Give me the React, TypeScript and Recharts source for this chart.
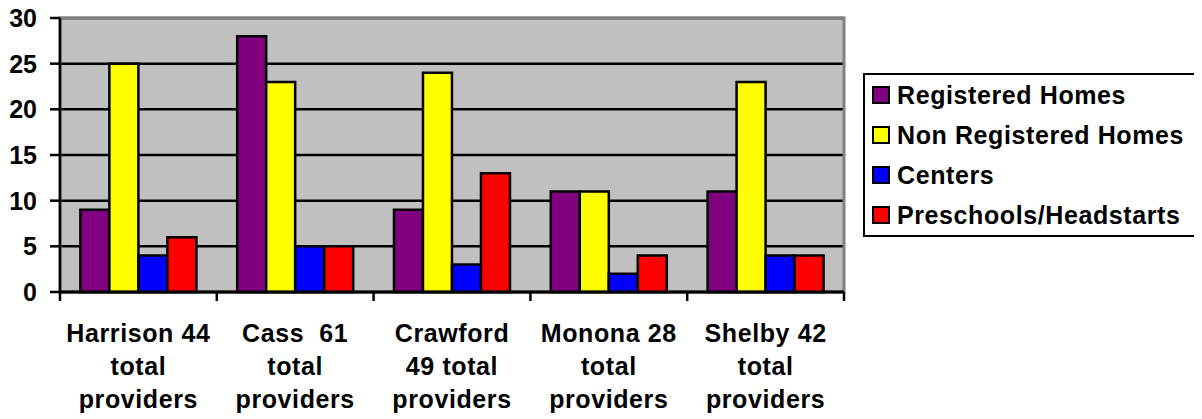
import React from 'react';
import {
  BarChart,
  Bar,
  XAxis,
  YAxis,
  CartesianGrid,
  ReferenceArea,
} from 'recharts';

const counties = ['Harrison', 'Cass', 'Crawford', 'Monona', 'Shelby'];
const countyLabels = [
  ['Harrison 44', 'total', 'providers'],
  ['Cass  61', 'total', 'providers'],
  ['Crawford', '49 total', 'providers'],
  ['Monona 28', 'total', 'providers'],
  ['Shelby 42', 'total', 'providers'],
];

const registeredHomes = [9, 28, 9, 11, 11];
const nonRegisteredHomes = [25, 23, 24, 11, 23];
const centers = [4, 5, 3, 2, 4];
const preschools = [6, 5, 13, 4, 4];

const yTicks = [0, 5, 10, 15, 20, 25, 30];

const SERIES = [
  { key: 'registered', name: 'Registered Homes', color: '#800080' },
  { key: 'nonRegistered', name: 'Non Registered Homes', color: '#FFFF00' },
  { key: 'centers', name: 'Centers', color: '#0000FF' },
  { key: 'preschools', name: 'Preschools/Headstarts', color: '#FF0000' },
];

const data = counties.map((county, i) => ({
  county,
  registered: registeredHomes[i],
  nonRegistered: nonRegisteredHomes[i],
  centers: centers[i],
  preschools: preschools[i],
}));

const FONT = 'Arial, "Liberation Sans", sans-serif';
const PLOT_WIDTH = 784;

// multi-line county label, with tick marks at the category boundaries
const CountyTick = (props: any) => {
  const { x, y, payload, index } = props;
  const i = typeof index === 'number' ? index : payload.index;
  const half = PLOT_WIDTH / counties.length / 2;
  const lines = countyLabels[i] || [];
  return (
    <g>
      <line x1={x - half} y1={y} x2={x - half} y2={y + 9} stroke="#000" strokeWidth={2.5} />
      {i === counties.length - 1 && (
        <line x1={x + half} y1={y} x2={x + half} y2={y + 9} stroke="#000" strokeWidth={2.5} />
      )}
      {lines.map((line, k) => (
        <text
          key={k}
          x={x}
          y={y + 50 + k * 33}
          textAnchor="middle"
          fontFamily={FONT}
          fontWeight="bold"
          fontSize={25}
          letterSpacing={0.6}
          fill="#000"
          style={{ whiteSpace: 'pre' }}
        >
          {line}
        </text>
      ))}
    </g>
  );
};

const LegendBox = () => (
  <div
    style={{
      position: 'absolute',
      left: 855,
      top: 71,
      border: '2px solid #000',
      background: '#fff',
      width: 334,
      fontFamily: FONT,
      fontWeight: 'bold',
      fontSize: 25,
      letterSpacing: 0.6,
    }}
  >
    {SERIES.map((s) => (
      <div key={s.key} style={{ height: 40, display: 'flex', alignItems: 'center' }}>
        <span
          style={{
            display: 'inline-block',
            width: 14,
            height: 14,
            background: s.color,
            border: '2px solid #000',
            marginLeft: 7,
            marginRight: 7,
            flexShrink: 0,
          }}
        />
        <span style={{ color: '#000', whiteSpace: 'nowrap' }}>{s.name}</span>
      </div>
    ))}
  </div>
);

export default function App() {
  return (
    <div style={{ position: 'relative', width: 1186, height: 417, marginTop: -6 }}>
      <BarChart
        width={1186}
        height={417}
        data={data}
        margin={{ top: 16, right: 350, left: 0, bottom: 0 }}
        barCategoryGap="13%"
        barGap={0}
      >
        <CartesianGrid vertical={false} stroke="#000" strokeWidth={2.5} fill="#C0C0C0" fillOpacity={1} />
        <ReferenceArea y1={0} y2={30} fill="none" stroke="#808080" strokeWidth={3} ifOverflow="visible" />
        <XAxis
          dataKey="county"
          height={127}
          tickSize={0}
          tickMargin={0}
          tickLine={false}
          axisLine={{ stroke: '#000', strokeWidth: 3 }}
          tick={<CountyTick />}
          interval={0}
        />
        <YAxis
          width={52}
          domain={[0, 30]}
          ticks={yTicks}
          interval={0}
          tickSize={10}
          tickMargin={13}
          axisLine={{ stroke: '#000', strokeWidth: 2.5 }}
          tickLine={{ stroke: '#000', strokeWidth: 2.5 }}
          tick={{ fill: '#000', fontSize: 25, fontWeight: 'bold', fontFamily: FONT }}
        />
        {SERIES.map((s) => (
          <Bar
            key={s.key}
            dataKey={s.key}
            name={s.name}
            fill={s.color}
            stroke="#000"
            strokeWidth={2.5}
            isAnimationActive={false}
          />
        ))}
      </BarChart>
      <LegendBox />
    </div>
  );
}
